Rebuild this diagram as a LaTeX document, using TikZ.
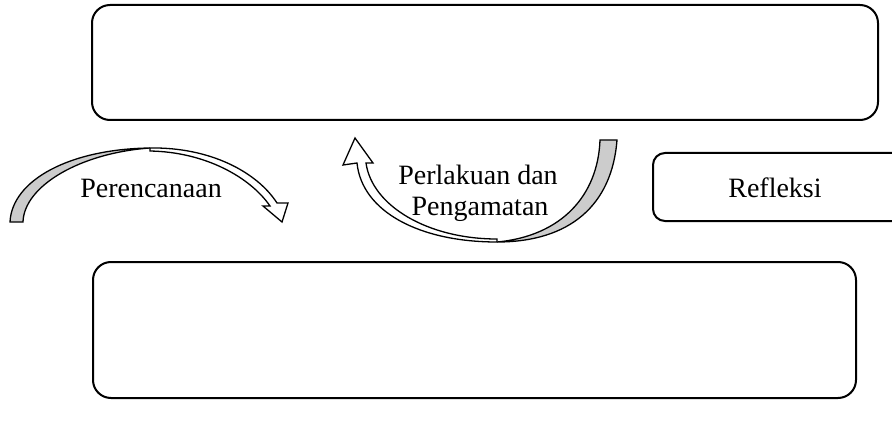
\documentclass[tikz,border=0pt]{standalone}
\usepackage{fontspec}
\setmainfont{Liberation Serif}
\begin{document}
\begin{tikzpicture}[x=1pt,y=-1pt,
  box/.style={draw=black, line width=2pt, rounded corners=18pt, inner sep=0pt},
  lbl/.style={font=\fontsize{28}{30}\selectfont, inner sep=0pt, align=center},
  band/.style={draw=black, line width=1.3pt, line join=miter}]
\useasboundingbox (0,0) rectangle (892,425);
\fill[white] (0,0) rectangle (892,425);
% boxes
\node[box, minimum width=786pt, minimum height=115pt] (top) at (485,62.5) {};
\node[box, minimum width=763pt, minimum height=136pt] (bottom) at (474.5,330) {};
\node[box, rounded corners=12pt, minimum width=300pt, minimum height=68pt, anchor=north west] (refl) at (652,152) {};
\node[lbl, anchor=base] (refltxt) at (775,197) {Refleksi};
% arrow 1: Perencanaan
\filldraw[band, fill=gray!40] (10,222) .. controls (12,180) and (70,149) .. (150,148)
   .. controls (80,153) and (24,186) .. (23,222) -- cycle;
\filldraw[band, fill=white] (150,148) .. controls (210,147) and (257,172) .. (277,203)
   -- (288,203) -- (282,222) -- (263,206) -- (270,206)
   .. controls (250,177) and (205,152) .. (150,151) -- cycle;
\node[lbl, anchor=base] (plan) at (151,197) {Perencanaan};
% arrow 2: Perlakuan dan Pengamatan
\filldraw[band, fill=gray!40] (617,140) .. controls (612,205) and (570,242) .. (497,242)
   .. controls (562,236) and (598,195) .. (600,140) -- cycle;
\filldraw[band, fill=white] (497,242) .. controls (420,242) and (362,212) .. (357,163)
   -- (343,165) -- (355,138) -- (373,163) -- (366,163)
   .. controls (372,206) and (428,239) .. (497,239) -- cycle;
\node[lbl, anchor=base] (act1) at (478,185) {Perlakuan dan};
\node[lbl, anchor=base] (act2) at (480,215) {Pengamatan};
\end{tikzpicture}
\end{document}
